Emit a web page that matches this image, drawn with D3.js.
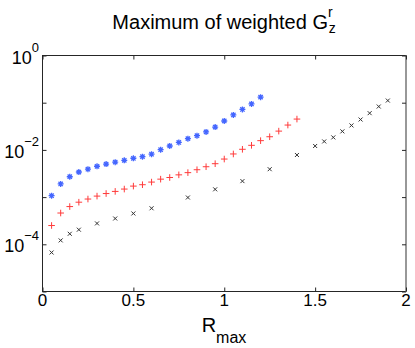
<!DOCTYPE html>
<html>
<head>
<meta charset="utf-8">
<script src="https://cdn.jsdelivr.net/npm/d3@7"></script>
<style>
body { margin: 0; background: #fff; }
text { font-family: "Liberation Sans", Arial, sans-serif; fill: #000; }
</style>
</head>
<body>
<div id="area_1"></div>
<script>
// star series (blue)
var star_x = [0.05, 0.1, 0.15, 0.2, 0.25, 0.3, 0.35, 0.4, 0.45, 0.5, 0.55, 0.6, 0.65, 0.7,
  0.75, 0.8, 0.85, 0.9, 0.95, 1.0, 1.05, 1.1, 1.15, 1.2]
var star_y = [1.07e-3, 1.9e-3, 2.7e-3, 3.4e-3, 3.9e-3, 4.5e-3, 5.0e-3, 5.5e-3, 6.0e-3, 6.65e-3,
  7.2e-3, 8.1e-3, 1.01e-2, 1.21e-2, 1.44e-2, 1.73e-2, 2.0e-2, 2.4e-2, 3.05e-2, 4.1e-2,
  5.5e-2, 7.2e-2, 9.4e-2, 0.131]

// plus series (red)
var plus_x = [0.05, 0.1, 0.15, 0.2, 0.25, 0.3, 0.35, 0.4, 0.45, 0.5, 0.55, 0.6, 0.65, 0.7,
  0.75, 0.8, 0.85, 0.9, 0.95, 1.0, 1.05, 1.1, 1.15, 1.2, 1.25, 1.3, 1.35, 1.4]
var plus_y = [2.5e-4, 4.6e-4, 6.3e-4, 7.8e-4, 9.1e-4, 1.05e-3, 1.19e-3, 1.32e-3, 1.48e-3, 1.71e-3,
  1.83e-3, 2.08e-3, 2.4e-3, 2.6e-3, 2.96e-3, 3.3e-3, 3.8e-3, 4.4e-3, 5.1e-3, 6.4e-3,
  8.2e-3, 1.03e-2, 1.25e-2, 1.57e-2, 1.9e-2, 2.5e-2, 3.36e-2, 4.5e-2]

// cross series (black)
var cross_x = [0.05, 0.1, 0.15, 0.2, 0.3, 0.4, 0.5, 0.6, 0.8, 0.95, 1.1, 1.25, 1.4, 1.5,
  1.55, 1.6, 1.65, 1.7, 1.75, 1.8, 1.85, 1.9]
var cross_y = [6.7e-5, 1.21e-4, 1.67e-4, 2.04e-4, 2.77e-4, 3.52e-4, 4.5e-4, 5.8e-4, 9.8e-4, 1.46e-3,
  2.18e-3, 3.9e-3, 7.8e-3, 1.21e-2, 1.51e-2, 1.84e-2, 2.47e-2, 3.3e-2, 4.4e-2, 6.0e-2,
  8.3e-2, 0.111]

var x_ticks = [0, 0.5, 1, 1.5, 2]
var x_labels = ["0", "0.5", "1", "1.5", "2"]
var y_ticks = [1, 1e-1, 1e-2, 1e-3, 1e-4, 1e-5]
var y_labeled = [1, 1e-2, 1e-4]
var y_exps = ["0", "\u22122", "\u22124"]

var margin_left = 42.5, margin_top = 55.5
var width = 363.5, height = 236
var tick_len = 4

var svg = d3.select("#area_1").append("svg")
  .attr("width", 415)
  .attr("height", 348)

var x = d3.scaleLinear().domain([0, 2]).range([0, width])
var y = d3.scaleLog().domain([1e-5, 1]).range([height, 0])

var g = svg.append("g")
  .attr("transform", "translate(" + margin_left + "," + margin_top + ")")

// box
g.append("rect")
  .attr("width", width).attr("height", height)
  .style("fill", "none").style("stroke", "#262626").style("stroke-width", 1)
g.append("line")
  .attr("x1", width).attr("x2", width).attr("y1", 0).attr("y2", height)
  .style("stroke", "#9a9a9a").style("stroke-width", 1.5)

// inward ticks on all four sides
function ticks_only(ax) {
  ax.tickSizeInner(-tick_len).tickSizeOuter(0).tickFormat("")
  return ax
}
g.append("g").attr("transform", "translate(0," + height + ")")
  .call(ticks_only(d3.axisBottom(x).tickValues(x_ticks)))
g.append("g")
  .call(ticks_only(d3.axisTop(x).tickValues(x_ticks)))
g.append("g")
  .call(ticks_only(d3.axisLeft(y).tickValues(y_ticks)))
g.append("g").attr("transform", "translate(" + width + ",0)")
  .call(ticks_only(d3.axisRight(y).tickValues(y_ticks)))
g.selectAll(".domain").remove()
g.selectAll(".tick line").style("stroke", "#262626")

// x tick labels
g.selectAll(".xlab")
  .data(x_ticks)
  .enter().append("text")
  .attr("class", "xlab")
  .attr("x", function (d) { return x(d) })
  .attr("y", height + 14)
  .attr("text-anchor", "middle")
  .style("font-size", "17px")
  .text(function (d, i) { return x_labels[i] })

// y tick labels 10^n
var ylab = g.selectAll(".ylab")
  .data(y_labeled)
  .enter().append("text")
  .attr("class", "ylab")
  .attr("x", -3.5)
  .attr("y", function (d) { return y(d) + 8 })
  .attr("text-anchor", "end")
  .style("font-size", "18px")
ylab.append("tspan").text("10")
ylab.append("tspan")
  .attr("dy", -12)
  .style("font-size", "13px")
  .text(function (d, i) { return y_exps[i] })

// series
function cross_path(s) {
  return "M" + (-s) + "," + (-s) + "L" + s + "," + s + "M" + (-s) + "," + s + "L" + s + "," + (-s)
}
function plus_path(s) {
  return "M" + (-s) + ",0L" + s + ",0M0," + (-s) + "L0," + s
}
function star_path(s) {
  return plus_path(s) + cross_path(s * 0.72)
}

g.selectAll(".star")
  .data(star_x)
  .enter().append("path")
  .attr("class", "star")
  .attr("transform", function (d, i) { return "translate(" + x(d) + "," + y(star_y[i]) + ")" })
  .attr("d", star_path(3))
  .style("fill", "none").style("stroke", "#4466ff").style("stroke-width", 1.3)

g.selectAll(".plus")
  .data(plus_x)
  .enter().append("path")
  .attr("class", "plus")
  .attr("transform", function (d, i) { return "translate(" + x(d) + "," + y(plus_y[i]) + ")" })
  .attr("d", plus_path(3.3))
  .style("fill", "none").style("stroke", "#ff3b3b").style("stroke-width", 1)

g.selectAll(".cross")
  .data(cross_x)
  .enter().append("path")
  .attr("class", "cross")
  .attr("transform", function (d, i) { return "translate(" + x(d) + "," + y(cross_y[i]) + ")" })
  .attr("d", cross_path(2))
  .style("fill", "none").style("stroke", "#333").style("stroke-width", 1)

// title
var title = svg.append("text")
  .attr("x", 224)
  .attr("y", 29)
  .attr("text-anchor", "middle")
  .style("font-size", "20px")
title.append("tspan").text("Maximum of weighted G")
title.append("tspan").attr("dy", -12).style("font-size", "14px").text("r")
title.append("tspan").attr("dx", -4).attr("dy", 16).style("font-size", "14px").text("z")

// x label
var xlabel = svg.append("text")
  .attr("x", 224)
  .attr("y", 331.5)
  .attr("text-anchor", "middle")
  .style("font-size", "20px")
xlabel.append("tspan").text("R")
xlabel.append("tspan").attr("dy", 11).style("font-size", "16px").text("max")
</script>
</body>
</html>
